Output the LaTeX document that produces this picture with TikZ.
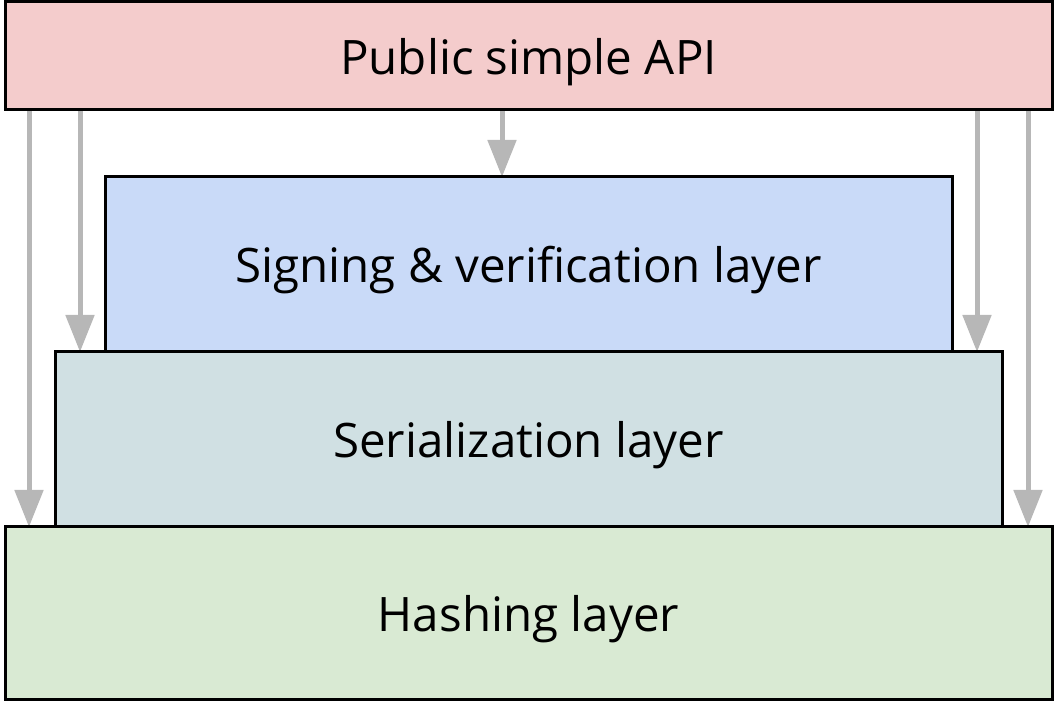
\documentclass[tikz,border=0pt]{standalone}
\usepackage{fontspec}
\setmainfont{Open Sans}
\usetikzlibrary{arrows.meta}
\definecolor{apired}{HTML}{F4CCCC}
\definecolor{signblue}{HTML}{C9DAF8}
\definecolor{serialgrey}{HTML}{D0E0E3}
\definecolor{hashgreen}{HTML}{D9EAD3}
\definecolor{arrowgrey}{HTML}{B7B7B7}
\pgfdeclarelayer{background}
\pgfsetlayers{background,main}
\tikzset{
  layer/.style={draw=black, line width=3pt, inner sep=0pt, outer sep=0pt,
    font=\fontsize{47.5}{56}\selectfont, text height=36pt, text depth=0pt},
  callarrow/.style={draw=arrowgrey, line width=5pt,
    -{Triangle[length=37pt, width=28pt]}}
}
\begin{document}
\begin{tikzpicture}[x=1pt, y=1pt]
  \useasboundingbox (0,0) rectangle (1057,703);
  % the stacked layers
  \node[layer, fill=hashgreen, minimum width=1047pt, minimum height=173pt]
    (hash) at (528.5,89.5) {Hashing layer};
  \node[layer, fill=serialgrey, minimum width=947pt, minimum height=175pt]
    (serial) at (528.5,263.5) {Serialization layer};
  \node[layer, fill=signblue, minimum width=847pt, minimum height=175pt]
    (sign) at (528.5,438.5) {Signing \& verification layer};
  \node[layer, fill=apired, minimum width=1047pt, minimum height=108pt,
    text height=38pt]
    (api) at (528.5,647) {Public simple API};
  % x positions of the call arrows
  \coordinate (c1) at (29,0);
  \coordinate (c2) at (80,0);
  \coordinate (c3) at (502,0);
  \coordinate (c4) at (977,0);
  \coordinate (c5) at (1028,0);
  % arrows from the public API down to each layer, behind the boxes
  \begin{pgfonlayer}{background}
    \draw[callarrow] (api.south -| c1) -- (hash.north -| c1);
    \draw[callarrow] (api.south -| c2) -- (serial.north -| c2);
    \draw[callarrow] (api.south -| c3) -- (sign.north -| c3);
    \draw[callarrow] (api.south -| c4) -- (serial.north -| c4);
    \draw[callarrow] (api.south -| c5) -- (hash.north -| c5);
  \end{pgfonlayer}
\end{tikzpicture}
\end{document}
